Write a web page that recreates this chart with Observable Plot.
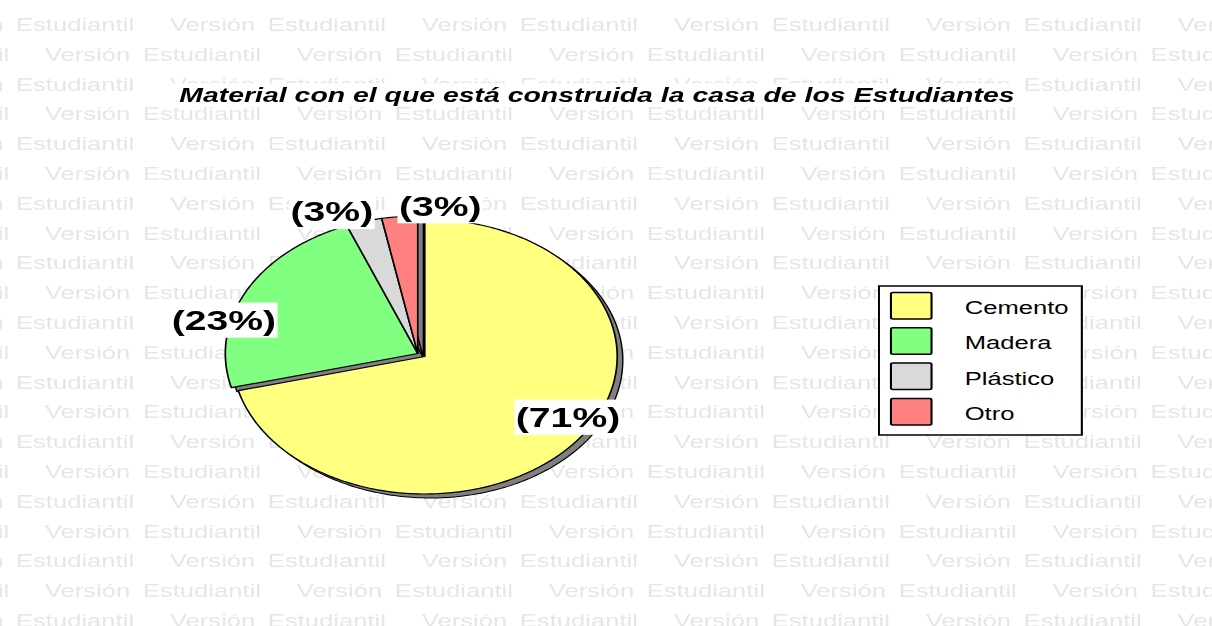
<!DOCTYPE html>
<html>
<head>
<meta charset="utf-8">
<script src="https://cdn.jsdelivr.net/npm/d3@7"></script>
<script src="https://cdn.jsdelivr.net/npm/@observablehq/plot@0.6"></script>
<style>
  html, body { margin: 0; padding: 0; background: #fff; overflow: hidden; }
  #stage { position: relative; width: 866px; height: 626px; transform: scaleX(1.39954); transform-origin: 0 0;
           font-family: "Liberation Sans", Arial, sans-serif; }
  #stage > svg { position: absolute; left: 0; top: 0; }
</style>
</head>
<body>
<div id="stage"></div>
<script>
// ---- data ----
const title = "Material con el que está construida la casa de los Estudiantes";
const categories = ["Cemento", "Madera", "Plástico", "Otro"];
const percents = [71, 23, 3, 3];
const labels = ["(71%)", "(23%)", "(3%)", "(3%)"];
const colors = ["#ffff80", "#80ff80", "#d9d9d9", "#ff8080"];
const watermarkWords = ["Versión", "Estudiantil"];

const W = 866, H = 626;
const stage = document.getElementById("stage");
const NS = "http://www.w3.org/2000/svg";

// ---- watermark layer (background) ----
const wm = d3.select(stage).append("svg").attr("width", W).attr("height", H)
  .style("font-family", '"Liberation Sans", Arial, sans-serif').style("font-size", "18.3px");
for (let k = 0; k < 21; k++) {
  const base = 31 + 29.8 * k;
  const start = k % 2 === 0 ? 121.4 : 32.1;
  for (let j = -1; j < 5; j++) {
    const u = start + 180 * j;
    wm.append("text").attr("x", u).attr("y", base).attr("fill", "#e6e6e6").text(watermarkWords[0]);
    wm.append("text").attr("x", u + 70).attr("y", base).attr("fill", "#e6e6e6").text(watermarkWords[1]);
  }
}

// ---- slice geometry (from the data) ----
const total = d3.sum(percents);
let acc = 0;
const slices = categories.map((c, i) => {
  const a0 = acc / total * 2 * Math.PI;
  acc += percents[i];
  const a1 = acc / total * 2 * Math.PI;
  return {category: c, a0, a1, mid: (a0 + a1) / 2, label: labels[i]};
});
function wedge(s) {
  const pts = [{category: s.category, x: 0, y: 0}];
  const n = Math.max(2, Math.ceil((s.a1 - s.a0) / (Math.PI / 180)));
  for (let k = 0; k <= n; k++) {
    const a = s.a0 + (s.a1 - s.a0) * k / n;
    pts.push({category: s.category, x: Math.sin(a), y: Math.cos(a)});
  }
  pts.push({category: s.category, x: 0, y: 0});
  return pts;
}
const exploded = slices.filter(s => s.category === "Cemento").flatMap(wedge);
const others = slices.filter(s => s.category !== "Cemento").flatMap(wedge);

const ex = 5, ey = 3;      // explosion offset of the first slice
const sx = 4, sy = 4;      // shadow offset

function labelMark(i, r, dx, dy) {
  return Plot.text([slices[i]], {
    x: d => r * Math.sin(d.mid), y: d => r * Math.cos(d.mid), text: "label",
    dx, dy, fontSize: 28, fontWeight: "bold", fill: "black"
  });
}

const chart = Plot.plot({
  width: W, height: H, margin: 0,
  x: {domain: [-1, 1], range: [160.5, 435.5], axis: null},
  y: {domain: [-1, 1], range: [490.5, 215.5], axis: null},
  color: {domain: categories, range: colors},
  style: {background: "transparent", fontFamily: '"Liberation Sans", Arial, sans-serif', overflow: "visible"},
  marks: [
    Plot.line(exploded, {x: "x", y: "y", z: "category", fill: "#808080", stroke: "black", strokeWidth: 1, dx: ex + sx, dy: ey + sy}),
    Plot.line(others, {x: "x", y: "y", z: "category", fill: "#808080", stroke: "black", strokeWidth: 1, dx: sx, dy: sy}),
    Plot.line(exploded, {x: "x", y: "y", z: "category", fill: "category", stroke: "black", strokeWidth: 1.2, dx: ex, dy: ey}),
    Plot.line(others, {x: "x", y: "y", z: "category", fill: "category", stroke: "black", strokeWidth: 1.2}),
    labelMark(0, 0.85, 15, -7),
    labelMark(1, 1.0, -16, 30),
    labelMark(2, 1.0, -23, -9),
    labelMark(3, 1.0, 29, -10),
    Plot.text([title], {frameAnchor: "top", text: d => d, dx: -7, dy: 101, lineAnchor: "bottom",
      fontSize: 20.3, fontWeight: "bold", fontStyle: "italic", fill: "black"})
  ]
});
stage.appendChild(chart);

// white boxes behind the label and title texts
const boxed = new Set([...labels, title]);
Array.from(chart.querySelectorAll("text")).forEach(t => {
  const s = t.textContent;
  if (!boxed.has(s)) return;
  const px = s === title ? 7 : 1, py = s === title ? 0 : 2;
  const b = t.getBBox();
  const r = document.createElementNS(NS, "rect");
  r.setAttribute("x", b.x - px);
  r.setAttribute("y", b.y - py);
  r.setAttribute("width", b.width + 2 * px);
  r.setAttribute("height", b.height + 2 * py);
  r.setAttribute("fill", "#ffffff");
  r.setAttribute("stroke", "none");
  const tr = t.getAttribute("transform");
  if (tr) r.setAttribute("transform", tr);
  t.parentNode.insertBefore(r, t);
});

// ---- legend ----
const lg = d3.select(stage).append("svg").attr("width", W).attr("height", H)
  .style("font-family", '"Liberation Sans", Arial, sans-serif').style("pointer-events", "none");
lg.append("rect").attr("x", 628).attr("y", 286).attr("width", 145).attr("height", 149)
  .attr("fill", "#fff").attr("stroke", "#000").attr("stroke-width", 1.5);
categories.forEach((c, i) => {
  lg.append("rect").attr("x", 636.6).attr("y", 292.5 + 35.3 * i).attr("width", 29).attr("height", 26.5)
    .attr("rx", 1.5).attr("fill", colors[i]).attr("stroke", "#000").attr("stroke-width", 1.5);
  lg.append("text").attr("x", 689.3).attr("y", 314 + 35.3 * i).attr("font-size", 18.3).attr("fill", "#000").text(c);
});
</script>
</body>
</html>
